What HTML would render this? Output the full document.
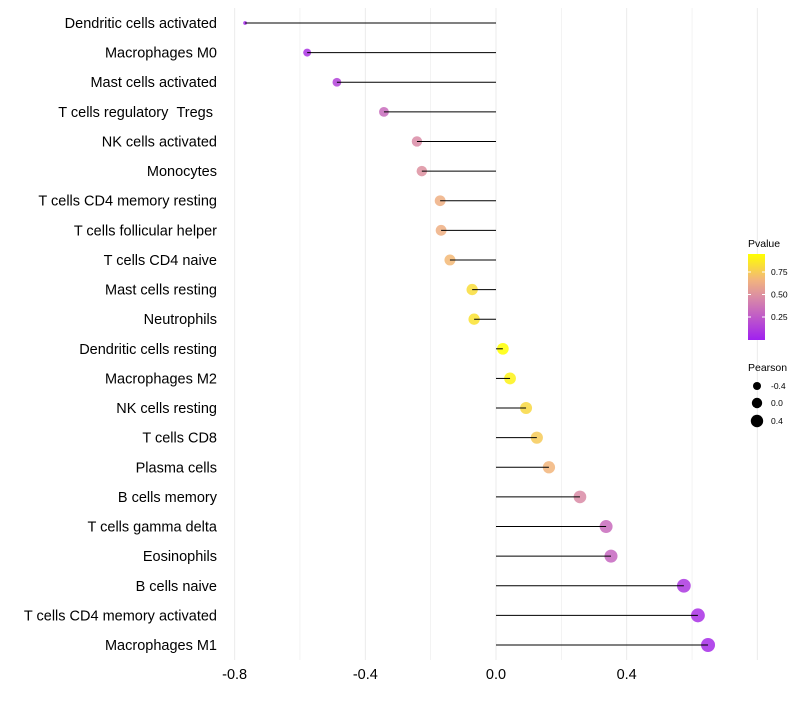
<!DOCTYPE html>
<html><head><meta charset="utf-8"><style>
body{margin:0;background:#fff;font-family:"Liberation Sans",sans-serif;}
</style></head><body>
<svg id="c" width="800" height="700" xmlns="http://www.w3.org/2000/svg"></svg>
<script>
const categories=["Dendritic cells activated","Macrophages M0","Mast cells activated","T cells regulatory\u00a0\u00a0Tregs\u00a0","NK cells activated","Monocytes","T cells CD4 memory resting","T cells follicular helper","T cells CD4 naive","Mast cells resting","Neutrophils","Dendritic cells resting","Macrophages M2","NK cells resting","T cells CD8","Plasma cells","B cells memory","T cells gamma delta","Eosinophils","B cells naive","T cells CD4 memory activated","Macrophages M1"];
const pearson=[-0.768,-0.578,-0.487,-0.343,-0.242,-0.227,-0.171,-0.168,-0.141,-0.073,-0.067,0.021,0.043,0.092,0.125,0.162,0.257,0.337,0.352,0.575,0.618,0.649];
const pvalue=[0.03,0.08,0.15,0.33,0.47,0.5,0.64,0.64,0.68,0.82,0.84,0.95,0.9,0.8,0.75,0.67,0.47,0.33,0.31,0.1,0.07,0.05];
const xTicks=[-0.8,-0.4,0.0,0.4];
const xTickLabels=["-0.8","-0.4","0.0","0.4"];
const ns="http://www.w3.org/2000/svg",svg=document.getElementById('c');
function el(t,a,p){const e=document.createElementNS(ns,t);for(const k in a)e.setAttribute(k,a[k]);(p||svg).appendChild(e);return e;}
const xs=v=>496+v*326.7;
const ys=i=>23+i*(622/21);
const rs=v=>1.5+5.5*Math.pow(Math.max(0,(v+0.77)/1.42),0.4);
function lerp(a,b,t){return a.map((x,i)=>Math.round(x+(b[i]-x)*t));}
function col(p){const t=Math.max(0,Math.min(1,p/0.95));const s=[[160,32,240],[218,140,165],[242,180,125],[255,255,0]];const st=[0,0.5,0.7,1];let k=0;while(k<2&&t>st[k+1])k++;return `rgb(${lerp(s[k],s[k+1],(t-st[k])/(st[k+1]-st[k]))})`;}
for(let v=-0.8;v<=0.81;v+=0.2){const g=el('line',{x1:xs(v),x2:xs(v),y1:8,y2:660,stroke:'#ebebeb','stroke-width':Math.abs(Math.round(v*10))%4==0?1:0.6});

}
categories.forEach((c,i)=>{
 const t=el('text',{x:217,y:ys(i)+5,'text-anchor':'end','font-size':14.5,fill:'#000'});t.textContent=c;
 
 
 const d=el('circle',{cx:xs(pearson[i]),cy:ys(i),r:rs(pearson[i]),fill:col(pvalue[i]),'fill-opacity':0.85});
 
 
 const l=el('line',{x1:xs(0),x2:xs(pearson[i]),y1:ys(i),y2:ys(i),stroke:'#000','stroke-width':1});
 
 
});
xTicks.forEach((v,i)=>{const t=el('text',{x:xs(v),y:679,'text-anchor':'middle','font-size':14.5,fill:'#000'});t.textContent=xTickLabels[i];
 
 });
const defs=el('defs',{});const lg=el('linearGradient',{id:'g',x1:0,y1:1,x2:0,y2:0},defs);
[0,0.25,0.5,0.6,0.7,0.85,1].forEach(o=>el('stop',{offset:o,'stop-color':col(o*0.95)},lg));
let t=el('text',{x:748,y:247,'font-size':10.5});t.textContent='Pvalue';

const bar=el('rect',{x:748,y:254,width:17,height:86,fill:'url(#g)'});

[[0.75,272],[0.50,294.5],[0.25,317]].forEach(([v,y])=>{el('line',{x1:748,x2:751,y1:y,y2:y,stroke:'#fff'});el('line',{x1:762,x2:765,y1:y,y2:y,stroke:'#fff'});
 const k=el('text',{x:771,y:y+3,'font-size':8.5});k.textContent=v.toFixed(2);
 });
t=el('text',{x:748,y:371,'font-size':10.5});t.textContent='Pearson';

[[-0.4,386,4],[0.0,403,5.2],[0.4,421,6.2]].forEach(([v,y,r])=>{const c=el('circle',{cx:757,cy:y,r:r,fill:'#000'});
 
 const k=el('text',{x:771,y:y+3,'font-size':8.5});k.textContent=v.toFixed(1);
 });
</script>
</body></html>
